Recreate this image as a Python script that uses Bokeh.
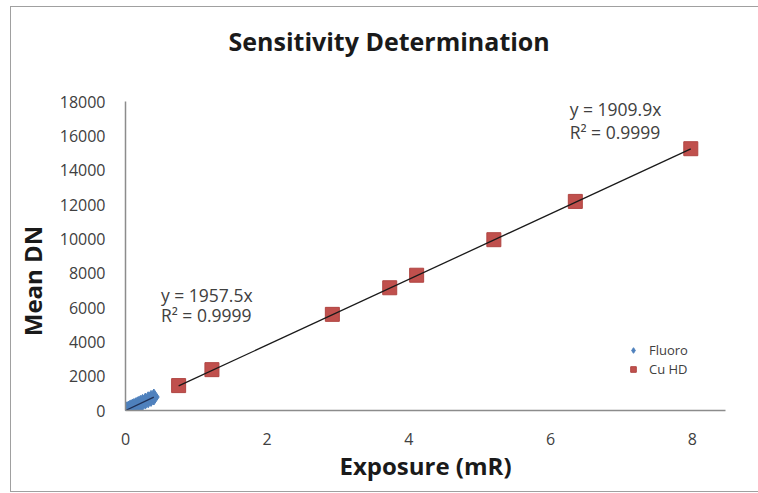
from bokeh.plotting import figure
from bokeh.models import Label, Legend, LegendItem, Range1d, FixedTicker, Title
from bokeh.embed import file_html
from bokeh.resources import INLINE

# ---- data ----
fluoro_x = [0.0, 0.02, 0.04, 0.06, 0.08, 0.10, 0.12, 0.15, 0.18, 0.21, 0.24, 0.28, 0.32, 0.36, 0.40]
fluoro_y = [0, 40, 80, 118, 158, 195, 236, 292, 352, 410, 470, 548, 625, 705, 785]
cu_x = [0.75, 1.22, 2.92, 3.73, 4.11, 5.20, 6.35, 7.98]
cu_y = [1450, 2380, 5600, 7150, 7880, 9950, 12180, 15250]
fluoro_slope = 1957.5
cu_slope = 1909.9
x_ticks = [0, 2, 4, 6, 8]
y_ticks = [0, 2000, 4000, 6000, 8000, 10000, 12000, 14000, 16000, 18000]

FONT = "Open Sans"

p = figure(width=748, height=486, output_backend="svg", toolbar_location=None,
           x_range=Range1d(0, 8.47), y_range=Range1d(0, 18000),
           min_border_left=114, min_border_right=34, min_border_top=94, min_border_bottom=83,
           title=None)
p.styles = {"border-left": "1px solid #a0a0a0", "border-top": "1px solid #a0a0a0",
            "border-bottom": "1px solid #a0a0a0", "margin-left": "10px", "margin-top": "6px"}

# spacer (closest to the frame), then the real title above it
p.add_layout(Title(text="\u00a0", text_font_size="10px", standoff=31), "above")
p.add_layout(Title(text="Sensitivity Determination", align="left", vertical_align="bottom",
                   offset=103, standoff=0, text_font=FONT, text_font_size="25px",
                   text_font_style="bold", text_color="#1a1a1a"), "above")

p.xgrid.visible = False
p.ygrid.visible = False
p.outline_line_color = None

for ax in (p.xaxis[0], p.yaxis[0]):
    ax.axis_line_color = "#8c8c8c"
    ax.axis_line_width = 1.5
    ax.major_tick_line_color = None
    ax.minor_tick_line_color = None
    ax.major_label_text_font = FONT
    ax.major_label_text_font_size = "16px"
    ax.major_label_text_color = "#404040"
    ax.axis_label_text_font = FONT
    ax.axis_label_text_font_style = "bold"
    ax.axis_label_text_color = "#1a1a1a"

p.xaxis.axis_label_text_font_size = "24px"
p.yaxis.axis_label_text_font_size = "24px"
p.xaxis.ticker = FixedTicker(ticks=x_ticks)
p.yaxis.ticker = FixedTicker(ticks=y_ticks)
p.xaxis.axis_label = "Exposure (mR)"
p.yaxis.axis_label = "Mean DN" + "\u00a0" * 8
p.xaxis.major_label_standoff = 16
p.yaxis.major_label_standoff = 14
p.xaxis.axis_label_standoff = 1
p.yaxis.axis_label_standoff = 8

# points and trendlines
fx = [min(fluoro_x), max(fluoro_x)]
cx = [min(cu_x), max(cu_x)]
r_f = p.scatter(fluoro_x, fluoro_y, marker="diamond", size=16, color="#4F81BD", line_color="#4F81BD")
p.line(fx, [fluoro_slope * v for v in fx], line_color="#1f2f55", line_width=1.3)
r_c = p.scatter(cu_x, cu_y, marker="square", size=14, fill_color="#C0504D", line_color="#b04542")
p.line(cx, [cu_slope * v for v in cx], line_color="#1a1a1a", line_width=1.3)

# equation labels
for (lx, ly, txt) in [(0.5, 6721, "y = 1957.5x"), (0.5, 5552, "R² = 0.9999"),
                      (6.27, 17534, "y = 1909.9x"), (6.27, 16248, "R² = 0.9999")]:
    p.add_layout(Label(x=lx, y=ly, text=txt, text_font=FONT, text_font_size="17.5px",
                       text_color="#404040", text_baseline="middle"))

legend = Legend(items=[LegendItem(label="Fluoro", renderers=[r_f]),
                       LegendItem(label="Cu HD", renderers=[r_c])],
                location=(501, 32), border_line_color=None, background_fill_alpha=0,
                label_text_font=FONT, label_text_font_size="13px", label_text_color="#404040",
                glyph_width=14, glyph_height=14, spacing=1, label_standoff=9)
p.add_layout(legend)

open("out.html", "w").write(file_html(p, INLINE))
